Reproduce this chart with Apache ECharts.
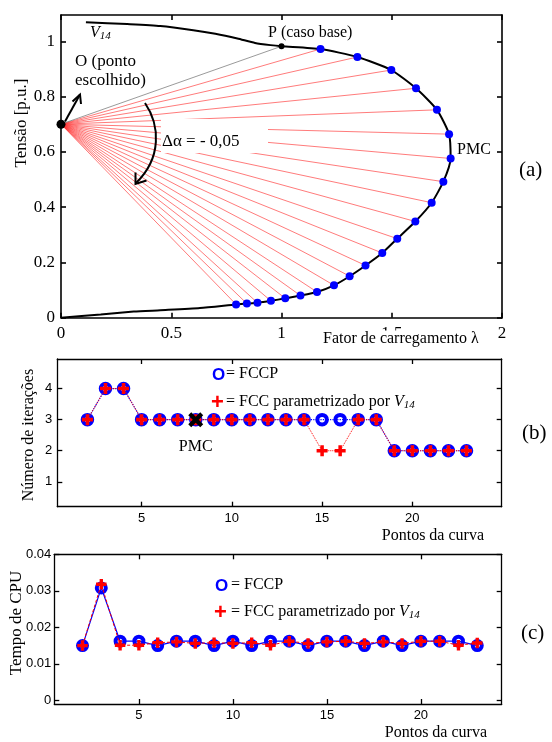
<!DOCTYPE html>
<html><head><meta charset="utf-8">
<script src="https://cdn.jsdelivr.net/npm/echarts@6/dist/echarts.min.js"></script>
<style>html,body{margin:0;padding:0;background:#fff}#c{width:552px;height:742px}</style>
</head><body><div id="c"></div>
<script>
// ---------- Panel (a): PV curve ----------
const originPt = [0, 0.7];
const baseCasePt = [1.0, 0.982];
const curveLambda = [0.113,0.3,0.45,0.6,0.7,0.8,0.88,0.95,1.0,1.177,1.344,1.498,1.610,1.705,1.760,1.767,1.734,1.681,1.607,1.525,1.457,1.381,1.309,1.238,1.161,1.086,1.017,0.952,0.891,0.843,0.794,0.63,0.45,0.33,0.18,0.0];
const curveV = [1.069,1.062,1.055,1.040,1.027,1.010,0.994,0.986,0.982,0.972,0.943,0.896,0.830,0.752,0.664,0.576,0.492,0.416,0.348,0.286,0.234,0.189,0.150,0.117,0.093,0.080,0.070,0.061,0.054,0.051,0.048,0.035,0.027,0.022,0.012,0.0];
const pointLambda = [1.177,1.344,1.498,1.610,1.705,1.760,1.767,1.734,1.681,1.607,1.525,1.457,1.381,1.309,1.238,1.161,1.086,1.017,0.952,0.891,0.843,0.794];
const pointV = [0.972,0.943,0.896,0.830,0.752,0.664,0.576,0.492,0.416,0.348,0.286,0.234,0.189,0.150,0.117,0.093,0.080,0.070,0.061,0.054,0.051,0.048];
const xTicksA = [0,0.5,1,1.5,2];
const yTicksA = [0,0.2,0.4,0.6,0.8,1];

// ---------- Panel (b): iterations ----------
const curvePoints = [2,3,4,5,6,7,8,9,10,11,12,13,14,15,16,17,18,19,20,21,22,23];
const itersFCCP = [3,4,4,3,3,3,3,3,3,3,3,3,3,3,3,3,3,2,2,2,2,2];
const itersV14  = [3,4,4,3,3,3,3,3,3,3,3,3,3,2,2,3,3,2,2,2,2,2];
const pmcPoint = 8;
const xTicksBC = [5,10,15,20];
const yTicksB = [1,2,3,4];

// ---------- Panel (c): CPU time ----------
const cpuFCCP = [0.0150,0.0308,0.0162,0.0162,0.0150,0.0162,0.0162,0.0150,0.0162,0.0150,0.0162,0.0162,0.0150,0.0162,0.0162,0.0150,0.0162,0.0150,0.0162,0.0162,0.0162,0.0150];
const cpuV14  = [0.0150,0.0318,0.0151,0.0151,0.0158,0.0160,0.0156,0.0158,0.0156,0.0158,0.0151,0.0162,0.0156,0.0160,0.0162,0.0156,0.0160,0.0156,0.0162,0.0162,0.0151,0.0157];
const yTicksC = [0,0.01,0.02,0.03,0.04];

const SERIF = '"Liberation Serif","Times New Roman",serif';
const SANS = '"Liberation Sans",Arial,sans-serif';

function xAxes(g, min, max, ticks, font, size, margin, lw) {
  const base = {type:'value', gridIndex:g, min:min, max:max, splitLine:{show:false},
    axisLine:{show:true,onZero:false,lineStyle:{color:'#000',width:lw}},
    axisTick:{show:true,inside:true,length:5,customValues:ticks,lineStyle:{color:'#000',width:lw}}};
  return [
    Object.assign({}, base, {position:'bottom', axisLabel:{show:true,customValues:ticks,color:'#000',fontFamily:font,fontSize:size,margin:margin}}),
    Object.assign({}, base, {position:'top', axisLabel:{show:false}})
  ];
}
function yAxes(g, min, max, ticks, font, size, margin, lw) {
  const base = {type:'value', gridIndex:g, min:min, max:max, splitLine:{show:false},
    axisLine:{show:true,onZero:false,lineStyle:{color:'#000',width:lw}},
    axisTick:{show:true,inside:true,length:5,customValues:ticks,lineStyle:{color:'#000',width:lw}}};
  return [
    Object.assign({}, base, {position:'left', axisLabel:{show:true,customValues:ticks,color:'#000',fontFamily:font,fontSize:size,margin:margin}}),
    Object.assign({}, base, {position:'right', axisLabel:{show:false}})
  ];
}

const curveData = curveLambda.map((l,i)=>[l, curveV[i]]);
const pointData = pointLambda.map((l,i)=>[l, pointV[i]]);
const fanData = pointLambda.map((l,i)=>({coords:[originPt, [l, pointV[i]]]}));
const bFCCP = curvePoints.map((p,i)=>[p, itersFCCP[i]]);
const bV14 = curvePoints.map((p,i)=>[p, itersV14[i]]);
const cFCCP = curvePoints.map((p,i)=>[p, cpuFCCP[i]]);
const cV14 = curvePoints.map((p,i)=>[p, cpuV14[i]]);
const pmcData = [[pmcPoint, itersFCCP[curvePoints.indexOf(pmcPoint)]]];

const PLUS = 'path://M3.4,0H6.6V3.4H10V6.6H6.6V10H3.4V6.6H0V3.4H3.4Z';
const CROSS = 'path://M0,2L2,0L5,3L8,0L10,2L7,5L10,8L8,10L5,7L2,10L0,8L3,5Z';

const circleStyle = {color:'rgba(0,0,0,0)', borderColor:'#0000ff', borderWidth:4, opacity:1};

function txt(x, y, text, opts) {
  return Object.assign({type:'text', x:x, y:y, z:20, style:Object.assign({text:text, fill:'#000', font:'16px '+SERIF, textVerticalAlign:'middle'}, opts||{})});
}
const richV = {
  n:{fontFamily:SERIF,fontSize:16,lineHeight:18,verticalAlign:'middle'},
  v:{fontFamily:SERIF,fontSize:16,fontStyle:'italic',lineHeight:18,verticalAlign:'middle'},
  s:{fontFamily:SERIF,fontSize:11,fontStyle:'italic',lineHeight:18,padding:[7,0,0,0],verticalAlign:'middle'}
};

const option = {
  animation:false,
  backgroundColor:'#fff',
  grid:[
    {left:61, top:15, width:441, height:302.7},
    {left:57.3, top:359, width:444.4, height:147.7},
    {left:54.3, top:554.3, width:447.4, height:149.7}
  ],
  xAxis:[].concat(
    xAxes(0, 0, 2, xTicksA, SERIF, 17, 7, 1.6),
    xAxes(1, 0.33, 24.95, xTicksBC, SANS, 13, 5, 1.3),
    xAxes(2, 0.5, 24.3, xTicksBC, SANS, 13, 5, 1.3)
  ),
  yAxis:[].concat(
    yAxes(0, 0, 1.095, yTicksA, SERIF, 17, 6, 1.6),
    yAxes(1, 0.2, 4.95, yTicksB, SANS, 13, 5, 1.3),
    yAxes(2, -0.001, 0.04, yTicksC, SANS, 13, 3, 1.3)
  ),
  series:[
    {type:'lines', coordinateSystem:'cartesian2d', xAxisIndex:0, yAxisIndex:0, z:1,
     data:fanData, lineStyle:{color:'#ff3030', width:0.8, opacity:0.8}, silent:true},
    {type:'lines', coordinateSystem:'cartesian2d', xAxisIndex:0, yAxisIndex:0, z:1,
     data:[{coords:[originPt, baseCasePt]}], lineStyle:{color:'#808080', width:0.8, opacity:1}, silent:true},
    {type:'line', xAxisIndex:0, yAxisIndex:0, data:curveData, symbol:'none', smooth:0.2, z:3,
     lineStyle:{color:'#000', width:2}},
    {type:'scatter', xAxisIndex:0, yAxisIndex:0, data:pointData, symbolSize:8, z:4,
     itemStyle:{color:'#0000ff', opacity:1}},
    {type:'scatter', xAxisIndex:0, yAxisIndex:0, data:[originPt], symbolSize:9, z:4, itemStyle:{color:'#000', opacity:1}},
    {type:'scatter', xAxisIndex:0, yAxisIndex:0, data:[baseCasePt], symbolSize:6, z:4, itemStyle:{color:'#000', opacity:1}},

    {type:'line', xAxisIndex:2, yAxisIndex:2, data:bFCCP, symbol:'circle', symbolSize:9.5, z:3,
     itemStyle:circleStyle, lineStyle:{color:'#0000ff', width:1.2, type:'dotted'}},
    {type:'line', xAxisIndex:2, yAxisIndex:2, data:bV14, symbol:PLUS, symbolSize:11, z:4,
     itemStyle:{color:'#ff0000', opacity:1}, lineStyle:{color:'#ff0000', width:1, type:'dotted'}},
    {type:'scatter', xAxisIndex:2, yAxisIndex:2, data:pmcData, symbol:CROSS, symbolSize:15, z:6, zlevel:0,
     itemStyle:{color:'#000', opacity:1},
     label:{show:true, position:'bottom', distance:12, formatter:'PMC', color:'#000', opacity:1, fontFamily:SERIF, fontSize:16}},

    {type:'line', xAxisIndex:4, yAxisIndex:4, data:cFCCP, symbol:'circle', symbolSize:9, z:3,
     itemStyle:circleStyle, lineStyle:{color:'#0000ff', width:1.2}},
    {type:'line', xAxisIndex:4, yAxisIndex:4, data:cV14, symbol:PLUS, symbolSize:10.5, z:4,
     itemStyle:{color:'#ff0000', opacity:1}, lineStyle:{color:'#ff0000', width:1, type:[3,2]}}
  ],
  graphic:[
    {type:'rect', z:10, shape:{x:161, y:119, width:107, height:34}, style:{fill:'#fff'}},
    txt(162, 142, 'Δα = - 0,05', {font:'17px '+SERIF}),
    {type:'line', z:20, shape:{x1:65, y1:121.5, x2:80, y2:94.5}, style:{stroke:'#000', lineWidth:2}},
    {type:'polyline', z:20, shape:{points:[[72.5,101.5],[80,94.5],[81,104]]}, style:{stroke:'#000', lineWidth:2, fill:null}},
    {type:'bezierCurve', z:20, shape:{x1:145, y1:103, cpx1:160, cpy1:125, cpx2:162, cpy2:158, x2:136, y2:183}, style:{stroke:'#000', lineWidth:2, fill:null}},
    {type:'polyline', z:20, shape:{points:[[135.5,172.5],[135.5,184],[146.5,180.5]]}, style:{stroke:'#000', lineWidth:2, fill:null}},
    {type:'text', x:90, y:33, z:20, style:{text:'{v|V}{s|14}', rich:richV, textVerticalAlign:'middle'}},
    txt(75, 62, 'O (ponto', {font:'17px '+SERIF}),
    txt(75, 81, 'escolhido)', {font:'17px '+SERIF}),
    txt(268, 33, 'P (caso base)', {font:'16px '+SERIF}),
    txt(457, 150, 'PMC', {font:'16px '+SERIF}),
    txt(323, 339, 'Fator de carregamento λ', {font:'16px '+SERIF, backgroundColor:'#fff', padding:[1,0,0,0]}),
    {type:'text', x:22, y:123, z:20, rotation:Math.PI/2, style:{text:'Tensão [p.u.]', font:'17px '+SERIF, fill:'#000', textAlign:'center', textVerticalAlign:'middle'}},
    txt(519, 170, '(a)', {font:'21px '+SERIF}),
    {type:'text', x:29, y:435, z:20, rotation:Math.PI/2, style:{text:'Número de iterações', font:'16px '+SERIF, fill:'#000', textAlign:'center', textVerticalAlign:'middle'}},
    txt(212, 375, 'O', {font:'bold 17px '+SANS, fill:'#0000ff'}),
    txt(226, 374, '= FCCP', {font:'16px '+SERIF}),
    txt(211, 403, '+', {font:'bold 22px '+SANS, fill:'#ff0000'}),
    {type:'text', x:226, y:402, z:20, style:{text:'{n|= FCC parametrizado por }{v|V}{s|14}', rich:richV, textVerticalAlign:'middle'}},
    txt(484, 536, 'Pontos da curva', {font:'16px '+SERIF, textAlign:'right'}),
    txt(522, 433, '(b)', {font:'21px '+SERIF}),
    {type:'text', x:17, y:623, z:20, rotation:Math.PI/2, style:{text:'Tempo de CPU', font:'17px '+SERIF, fill:'#000', textAlign:'center', textVerticalAlign:'middle'}},
    txt(215, 586, 'O', {font:'bold 17px '+SANS, fill:'#0000ff'}),
    txt(231, 585, '= FCCP', {font:'16px '+SERIF}),
    txt(214, 613, '+', {font:'bold 22px '+SANS, fill:'#ff0000'}),
    {type:'text', x:231, y:612, z:20, style:{text:'{n|= FCC parametrizado por }{v|V}{s|14}', rich:richV, textVerticalAlign:'middle'}},
    txt(487, 733, 'Pontos da curva', {font:'16px '+SERIF, textAlign:'right'}),
    txt(521, 633, '(c)', {font:'21px '+SERIF})
  ]
};
const chart = echarts.init(document.getElementById('c'), null, {renderer:'canvas'});
chart.setOption(option);
</script></body></html>
